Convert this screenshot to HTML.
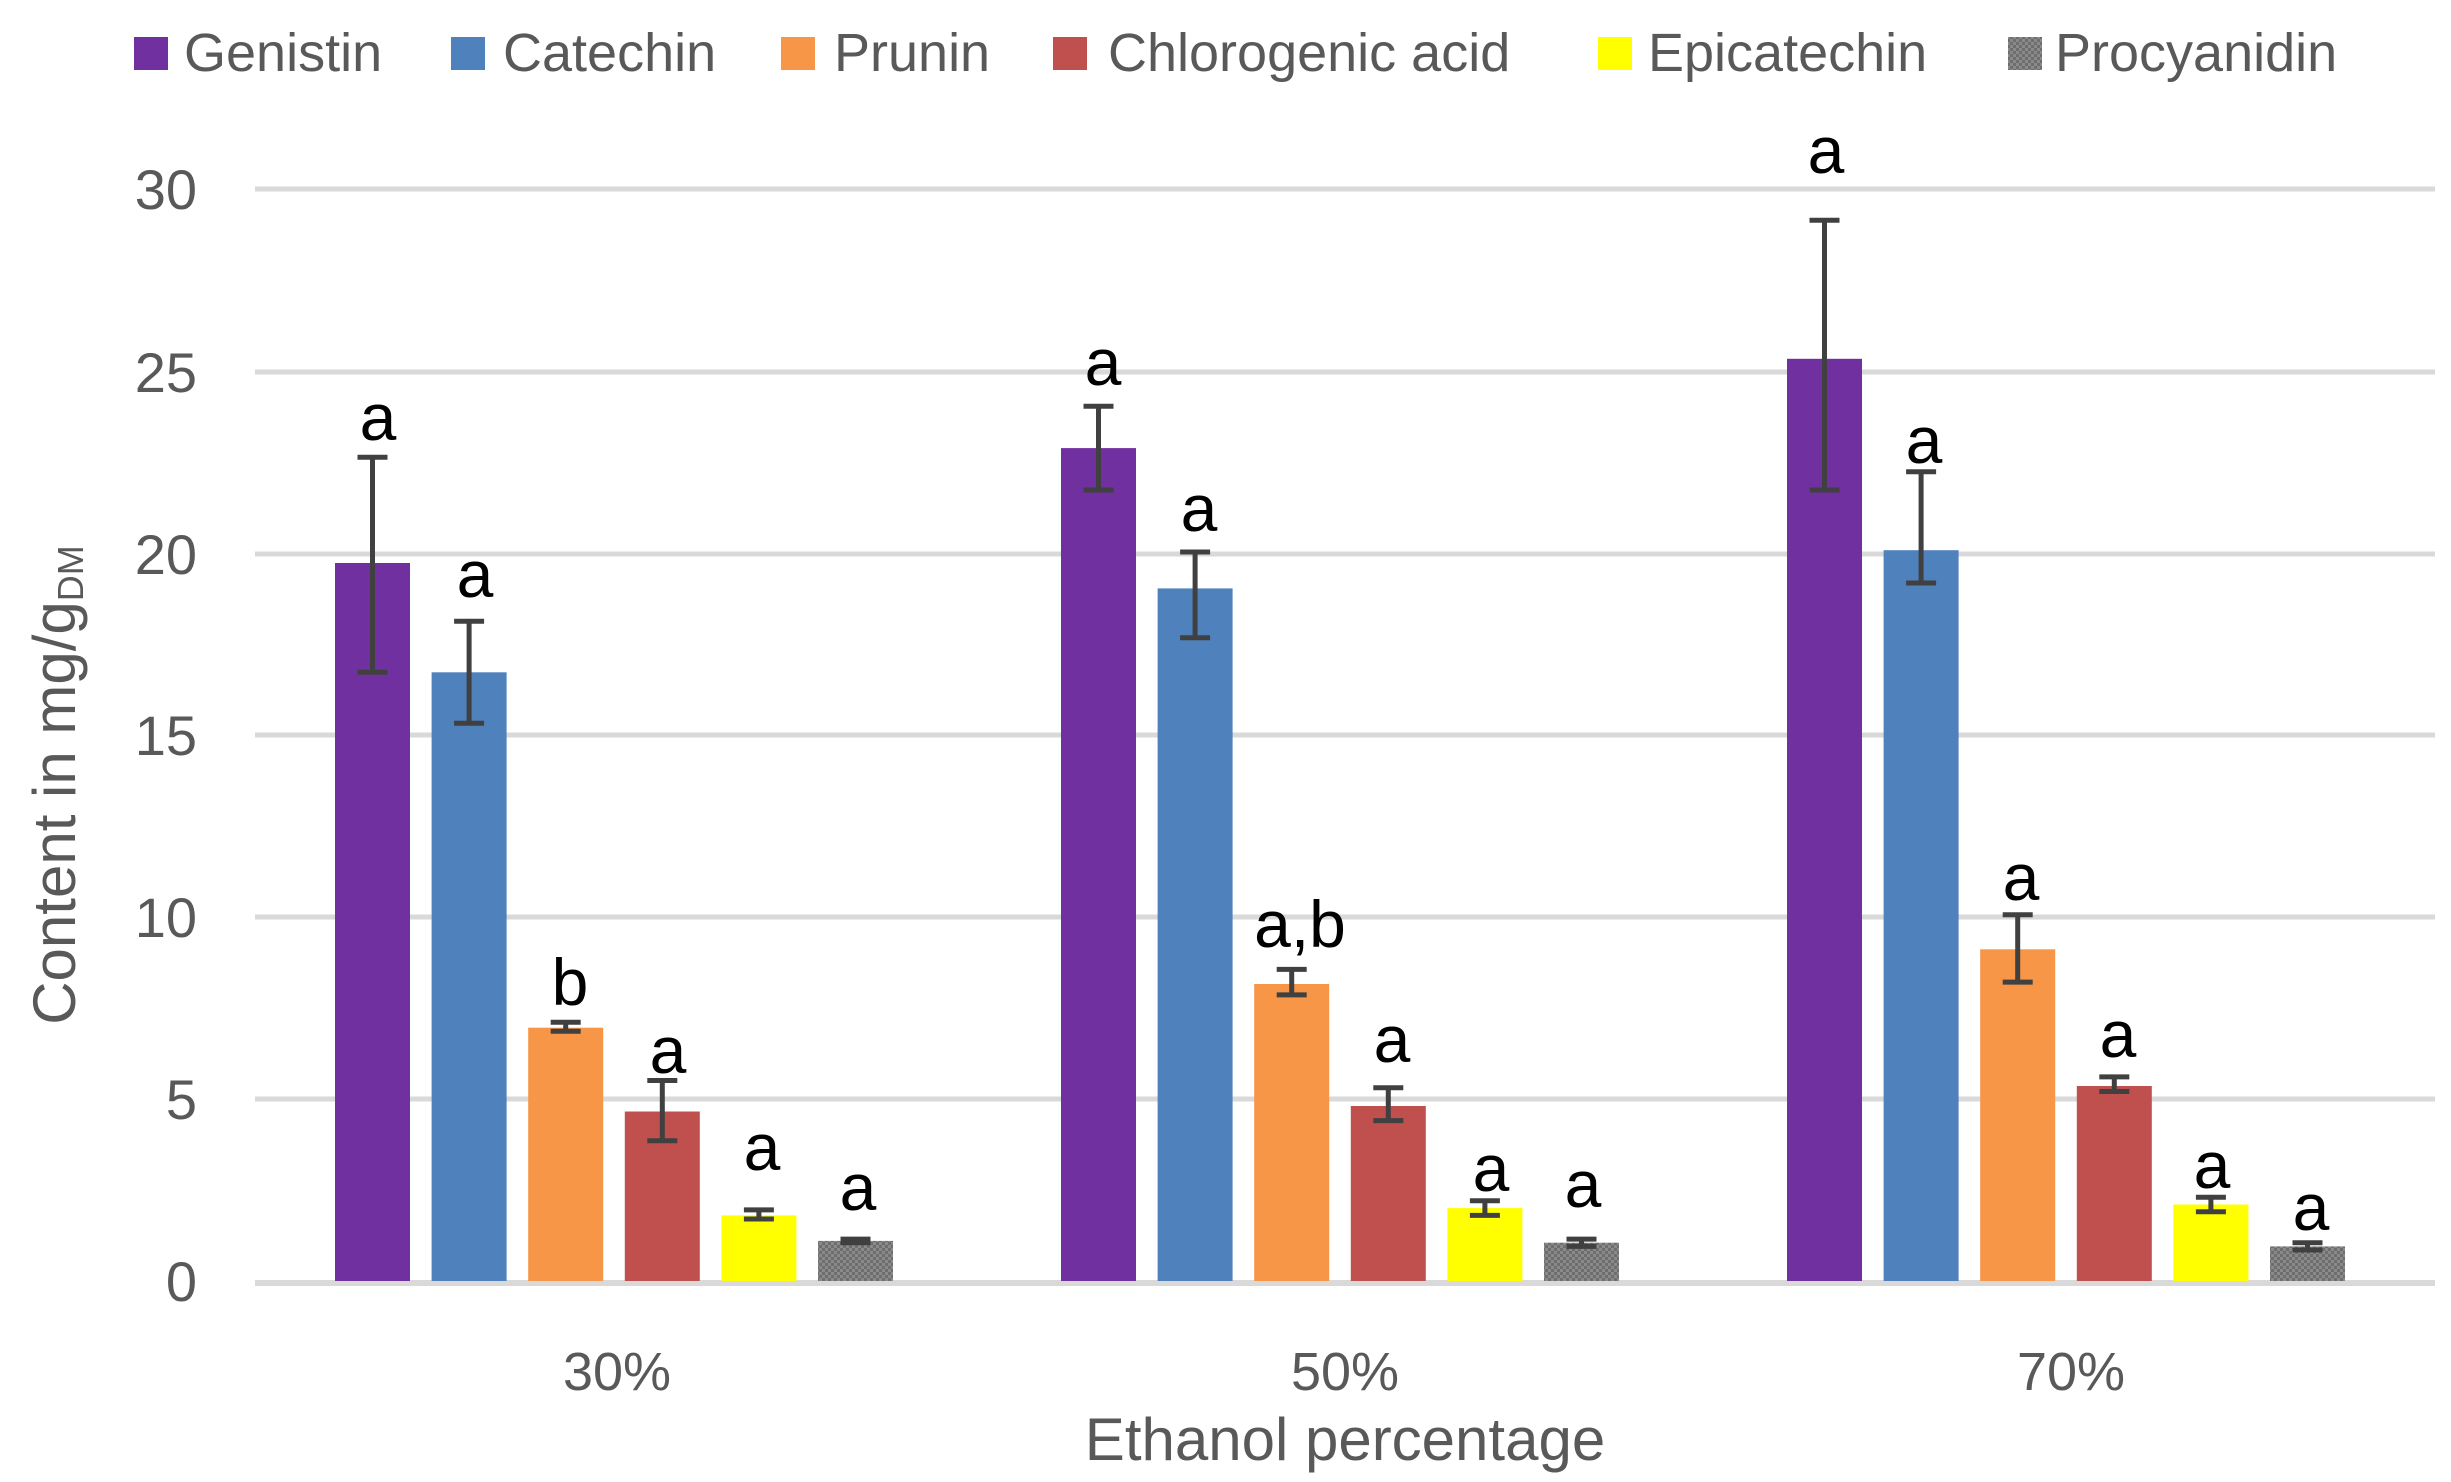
<!DOCTYPE html>
<html><head><meta charset="utf-8"><style>html,body{margin:0;padding:0;background:#fff}svg{display:block}</style></head><body>
<svg width="2451" height="1482" viewBox="0 0 2451 1482" xmlns="http://www.w3.org/2000/svg" font-family="'Liberation Sans', sans-serif">
<defs>
<pattern id="pg" width="6" height="6" patternUnits="userSpaceOnUse"><rect width="6" height="6" fill="#8a8a8a"/><rect width="3" height="3" fill="#6e6e6e"/><rect x="3" y="3" width="3" height="3" fill="#6e6e6e"/></pattern>
</defs>
<g stroke="#d9d9d9" stroke-width="5">
<line x1="255" y1="189" x2="2435" y2="189"/>
<line x1="255" y1="372" x2="2435" y2="372"/>
<line x1="255" y1="554" x2="2435" y2="554"/>
<line x1="255" y1="735" x2="2435" y2="735"/>
<line x1="255" y1="917" x2="2435" y2="917"/>
<line x1="255" y1="1099" x2="2435" y2="1099"/>
<line x1="255" y1="1283" x2="2435" y2="1283" stroke-width="6"/>
</g>
<g fill="#595959" font-size="56" text-anchor="end">
<text x="197" y="209">30</text><text x="197" y="392">25</text><text x="197" y="574">20</text>
<text x="197" y="755">15</text><text x="197" y="937">10</text><text x="197" y="1119">5</text><text x="197" y="1301">0</text>
</g>
<g>
<rect x="335" y="563" width="75" height="718" fill="#7030A0"/>
<rect x="431.6" y="672.3" width="75" height="608.7" fill="#4F81BD"/>
<rect x="528.2" y="1027.7" width="75" height="253.3" fill="#F79646"/>
<rect x="624.8" y="1111.5" width="75" height="169.5" fill="#C0504D"/>
<rect x="721.4" y="1215.4" width="75" height="65.6" fill="#FFFF00"/>
<rect x="818" y="1240.9" width="75" height="40.1" fill="url(#pg)"/>
<rect x="1061" y="448.1" width="75" height="832.9" fill="#7030A0"/>
<rect x="1157.6" y="588.4" width="75" height="692.6" fill="#4F81BD"/>
<rect x="1254.2" y="984" width="75" height="297" fill="#F79646"/>
<rect x="1350.8" y="1106" width="75" height="175" fill="#C0504D"/>
<rect x="1447.4" y="1208.1" width="75" height="72.9" fill="#FFFF00"/>
<rect x="1544" y="1242.7" width="75" height="38.3" fill="url(#pg)"/>
<rect x="1787" y="358.8" width="75" height="922.2" fill="#7030A0"/>
<rect x="1883.6" y="550.2" width="75" height="730.8" fill="#4F81BD"/>
<rect x="1980.2" y="949.3" width="75" height="331.7" fill="#F79646"/>
<rect x="2076.8" y="1086" width="75" height="195" fill="#C0504D"/>
<rect x="2173.4" y="1204.5" width="75" height="76.5" fill="#FFFF00"/>
<rect x="2270" y="1246.4" width="75" height="34.6" fill="url(#pg)"/>
</g>
<g stroke="#404040" stroke-width="5" fill="none">
<path d="M372.5 457.2V672.3M357.5 457.2h30M357.5 672.3h30"/>
<path d="M469.1 621.3V723.3M454.1 621.3h30M454.1 723.3h30"/>
<path d="M565.7 1022.2V1031.3M550.7 1022.2h30M550.7 1031.3h30"/>
<path d="M662.3 1080.5V1140.7M647.3 1080.5h30M647.3 1140.7h30"/>
<path d="M758.9 1209.9V1219M743.9 1209.9h30M743.9 1219h30"/>
<path d="M855.5 1239.1V1242.7M840.5 1239.1h30M840.5 1242.7h30"/>
<path d="M1098.5 406.2V490M1083.5 406.2h30M1083.5 490h30"/>
<path d="M1195.1 552V637.7M1180.1 552h30M1180.1 637.7h30"/>
<path d="M1291.7 969.4V994.9M1276.7 969.4h30M1276.7 994.9h30"/>
<path d="M1388.3 1087.8V1120.6M1373.3 1087.8h30M1373.3 1120.6h30"/>
<path d="M1484.9 1200.8V1215.4M1469.9 1200.8h30M1469.9 1215.4h30"/>
<path d="M1581.5 1239.1V1246.4M1566.5 1239.1h30M1566.5 1246.4h30"/>
<path d="M1824.5 220.3V490M1809.5 220.3h30M1809.5 490h30"/>
<path d="M1921.1 471.8V583M1906.1 471.8h30M1906.1 583h30"/>
<path d="M2017.7 914.7V982.1M2002.7 914.7h30M2002.7 982.1h30"/>
<path d="M2114.3 1076.9V1091.5M2099.3 1076.9h30M2099.3 1091.5h30"/>
<path d="M2210.9 1197.2V1211.7M2195.9 1197.2h30M2195.9 1211.7h30"/>
<path d="M2307.5 1242.7V1250M2292.5 1242.7h30M2292.5 1250h30"/>
</g>
<g fill="#000" font-size="66" text-anchor="middle">
<text x="378" y="440">a</text><text x="475" y="597">a</text><text x="570" y="1005">b</text>
<text x="668" y="1073">a</text><text x="762" y="1170">a</text><text x="858" y="1210">a</text>
<text x="1103" y="385">a</text><text x="1199" y="531">a</text><text x="1300" y="947">a,b</text>
<text x="1392" y="1062">a</text><text x="1491" y="1191">a</text><text x="1583" y="1207">a</text>
<text x="1826" y="173">a</text><text x="1924" y="463">a</text><text x="2021" y="900">a</text>
<text x="2118" y="1057">a</text><text x="2212" y="1188">a</text><text x="2311" y="1230">a</text>
</g>
<g fill="#595959" font-size="54" text-anchor="middle">
<text x="617" y="1390">30%</text><text x="1345" y="1390">50%</text><text x="2071" y="1390">70%</text>
<text x="1345" y="1460" font-size="60">Ethanol percentage</text>
</g>
<text transform="translate(75,785) rotate(-90)" fill="#595959" font-size="60" text-anchor="middle">Content in mg/g<tspan font-size="36" dy="8">DM</tspan></text>
<g font-size="54" fill="#595959">
<rect x="134" y="37" width="34" height="33" fill="#7030A0"/><text x="184" y="71">Genistin</text>
<rect x="451" y="37" width="34" height="33" fill="#4F81BD"/><text x="503" y="71">Catechin</text>
<rect x="781" y="37" width="34" height="33" fill="#F79646"/><text x="834" y="71">Prunin</text>
<rect x="1053" y="37" width="34" height="33" fill="#C0504D"/><text x="1108" y="71">Chlorogenic acid</text>
<rect x="1598" y="37" width="34" height="33" fill="#FFFF00"/><text x="1648" y="71">Epicatechin</text>
<rect x="2008" y="37" width="34" height="33" fill="url(#pg)"/><text x="2055" y="71">Procyanidin</text>
</g>
</svg>
</body></html>
